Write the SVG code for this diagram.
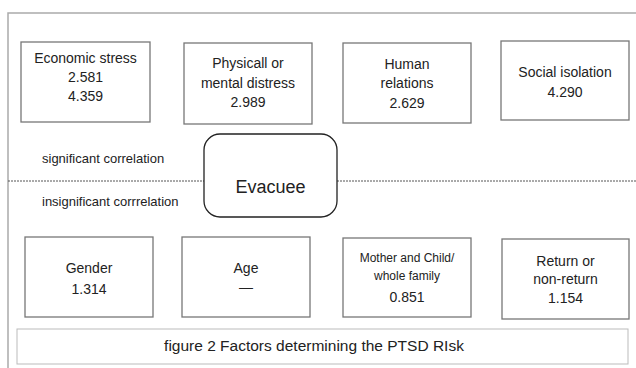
<svg xmlns="http://www.w3.org/2000/svg" width="636" height="368" viewBox="0 0 636 368">
<style>
.box{fill:#fff;stroke:#777;stroke-width:1.3}
.t{font-family:"Liberation Sans",Arial,sans-serif;font-size:14px;fill:#222;text-anchor:middle}
.s{font-family:"Liberation Sans",Arial,sans-serif;font-size:12px;fill:#222;text-anchor:middle}
.l{font-family:"Liberation Sans",Arial,sans-serif;font-size:13px;fill:#222}
</style>
<rect width="636" height="368" fill="#fff"/>
<path d="M8,368 V13 H636" fill="none" stroke="#aaa" stroke-width="1.5"/>
<g id="connectors">
<line x1="8" y1="181" x2="204" y2="181" stroke="#555" stroke-width="1" stroke-dasharray="2,1"/>
<line x1="337" y1="181" x2="636" y2="181" stroke="#555" stroke-width="1" stroke-dasharray="2,1"/>
</g>
<text class="l" x="42" y="163">significant correlation</text>
<text class="l" x="42" y="206">insignificant corrrelation</text>
<g id="economic">
<rect class="box" x="21" y="42" width="129" height="80"/>
<text class="t" x="85.5" y="63">Economic stress</text>
<text class="t" x="85.5" y="82">2.581</text>
<text class="t" x="85.5" y="101">4.359</text>
</g>
<g id="physical">
<rect class="box" x="184" y="43" width="128" height="81"/>
<text class="t" x="248" y="68">Physicall or</text>
<text class="t" x="248" y="88">mental distress</text>
<text class="t" x="248" y="107">2.989</text>
</g>
<g id="human">
<rect class="box" x="343" y="43" width="128" height="80"/>
<text class="t" x="407" y="69">Human</text>
<text class="t" x="407" y="88">relations</text>
<text class="t" x="407" y="108">2.629</text>
</g>
<g id="social">
<rect class="box" x="501" y="41" width="128" height="79"/>
<text class="t" x="565" y="77">Social isolation</text>
<text class="t" x="565" y="97">4.290</text>
</g>
<g id="evacuee">
<rect x="204" y="134" width="133" height="83" rx="16" fill="#fff" stroke="#222" stroke-width="1.3"/>
<text class="t" x="270.5" y="193" style="font-size:18px">Evacuee</text>
</g>
<g id="gender">
<rect class="box" x="25" y="237" width="128" height="80"/>
<text class="t" x="89" y="273">Gender</text>
<text class="t" x="89" y="294">1.314</text>
</g>
<g id="age">
<rect class="box" x="182" y="237" width="128" height="80"/>
<text class="t" x="246" y="273">Age</text>
<text class="t" x="246" y="292">—</text>
</g>
<g id="mother">
<rect class="box" x="343" y="238" width="128" height="79"/>
<text class="s" x="407" y="262">Mother and Child/</text>
<text class="s" x="407" y="280">whole family</text>
<text class="t" x="407" y="302">0.851</text>
</g>
<g id="return">
<rect class="box" x="502" y="239" width="127" height="80"/>
<text class="t" x="565.5" y="266">Return or</text>
<text class="t" x="565.5" y="284">non-return</text>
<text class="t" x="565.5" y="303">1.154</text>
</g>
<g id="caption">
<rect x="17" y="329" width="611" height="35" fill="#fff" stroke="#bbb" stroke-width="1"/>
<text class="t" x="314" y="351" style="font-size:15.5px">figure 2 Factors determining  the PTSD RIsk</text>
</g>
</svg>
